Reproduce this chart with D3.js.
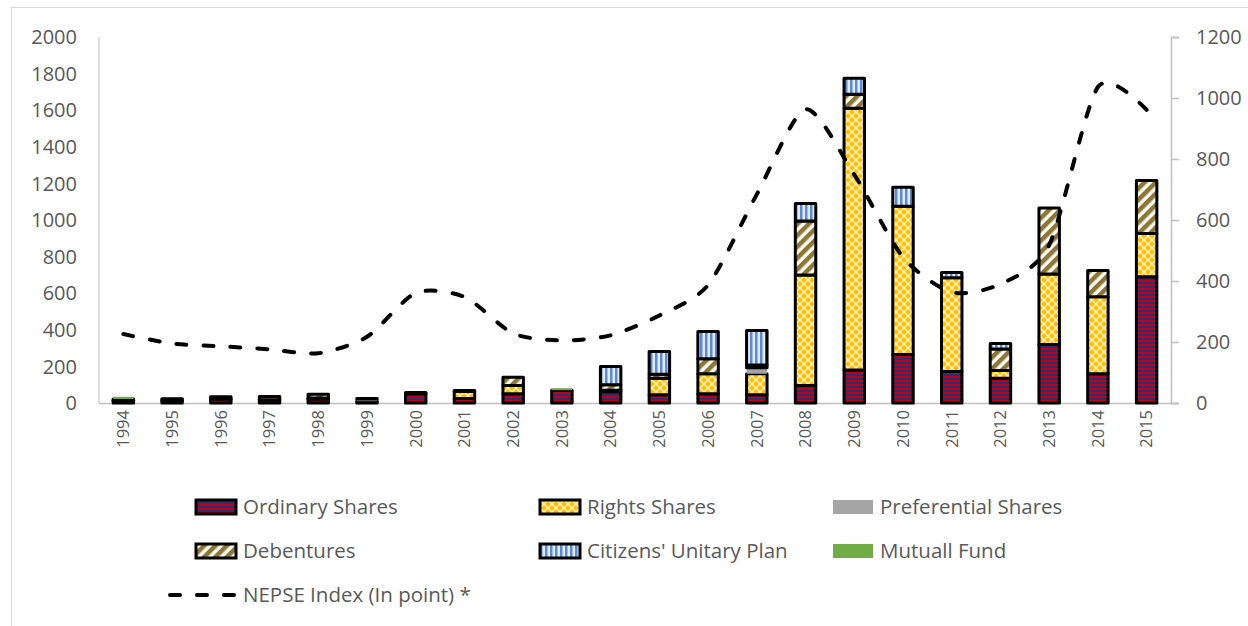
<!DOCTYPE html>
<html>
<head>
<meta charset="utf-8">
<script src="https://cdn.jsdelivr.net/npm/d3@7"></script>
<style>
  body { margin: 0; background: #fff; }
  svg text { font-family: "Open Sans", "Noto Sans", sans-serif; fill: #595959; }
</style>
</head>
<body>
<div id="chart"></div>
<script>
const years = ["1994","1995","1996","1997","1998","1999","2000","2001","2002","2003","2004",
  "2005","2006","2007","2008","2009","2010","2011","2012","2013","2014","2015"];

const ordinaryShares = [14, 15, 22, 18, 22, 10, 50, 25, 50, 70, 62, 45, 50, 45, 95, 180, 265, 172, 135, 320, 160, 690];
const rightsShares = [8, 8, 12, 17, 6, 0, 7, 38, 45, 0, 8, 90, 110, 115, 605, 1430, 810, 512, 42, 385, 420, 236];
const preferentialShares = [0, 0, 0, 0, 0, 12, 0, 0, 0, 0, 0, 0, 0, 33, 0, 0, 0, 0, 0, 0, 0, 0];
const debentures = [0, 0, 0, 0, 20, 3, 0, 5, 46, 0, 30, 22, 82, 15, 295, 77, 0, 0, 118, 360, 144, 290];
const citizensPlan = [0, 0, 0, 0, 0, 0, 0, 0, 0, 0, 99, 124, 149, 188, 95, 88, 104, 29, 30, 0, 0, 0];
const mutualFund = [12, 0, 0, 0, 0, 0, 0, 0, 0, 10, 0, 0, 0, 0, 0, 0, 0, 0, 0, 0, 0, 0];
const nepseIndex = [226, 195, 186, 176, 163, 217, 361, 348, 228, 205, 222, 287, 387, 684, 963, 749, 478, 363, 390, 518, 1036, 961];

const leftTicks = [0, 200, 400, 600, 800, 1000, 1200, 1400, 1600, 1800, 2000];
const rightTicks = [0, 200, 400, 600, 800, 1000, 1200];

const series = [
  { key: "ordinary", label: "Ordinary Shares", values: ordinaryShares, fill: "url(#pat-ordinary)", stroked: true },
  { key: "rights", label: "Rights Shares", values: rightsShares, fill: "url(#pat-rights)", stroked: true },
  { key: "preferential", label: "Preferential Shares", values: preferentialShares, fill: "#a5a5a5", stroked: false },
  { key: "debentures", label: "Debentures", values: debentures, fill: "url(#pat-deb)", stroked: true },
  { key: "citizens", label: "Citizens' Unitary Plan", values: citizensPlan, fill: "url(#pat-cit)", stroked: true },
  { key: "mutual", label: "Mutuall Fund", values: mutualFund, fill: "#70ad47", stroked: false }
];

const WIDTH = 1248;
const HEIGHT = 626;
const plot = { left: 99, right: 1171, top: 37, bottom: 403 };
const LABEL_SIZE = 20;
const LEGEND_SIZE = 20.5;

const svg = d3.select("#chart").append("svg")
  .attr("width", WIDTH)
  .attr("height", HEIGHT);

svg.append("rect").attr("width", WIDTH).attr("height", HEIGHT).attr("fill", "#fff");
svg.append("rect")
  .attr("x", 11.5).attr("y", 7.5)
  .attr("width", WIDTH).attr("height", HEIGHT)
  .attr("fill", "none").attr("stroke", "#d9d9d9");

// patterns that imitate the Excel fills
const defs = svg.append("defs");

const pOrd = defs.append("pattern").attr("id", "pat-ordinary")
  .attr("patternUnits", "userSpaceOnUse").attr("width", 4).attr("height", 4);
pOrd.append("rect").attr("width", 4).attr("height", 4).attr("fill", "#2b2f6b");
pOrd.append("rect").attr("width", 4).attr("height", 2).attr("fill", "#c00018");

const pRights = defs.append("pattern").attr("id", "pat-rights")
  .attr("patternUnits", "userSpaceOnUse").attr("width", 8).attr("height", 8);
pRights.append("rect").attr("width", 8).attr("height", 8).attr("fill", "#ffc000");
pRights.append("path").attr("d", "M0,0L8,8M8,0L0,8")
  .attr("stroke", "#fff2cc").attr("stroke-width", 1.4).attr("fill", "none");

const pDeb = defs.append("pattern").attr("id", "pat-deb")
  .attr("patternUnits", "userSpaceOnUse").attr("width", 8).attr("height", 8)
  .attr("patternTransform", "rotate(45)");
pDeb.append("rect").attr("width", 8).attr("height", 8).attr("fill", "#fdfbf4");
pDeb.append("rect").attr("width", 4.5).attr("height", 8).attr("fill", "#8c7535");

const pCit = defs.append("pattern").attr("id", "pat-cit")
  .attr("patternUnits", "userSpaceOnUse").attr("width", 5).attr("height", 5);
pCit.append("rect").attr("width", 5).attr("height", 5).attr("fill", "#e3ebf8");
pCit.append("rect").attr("width", 2.5).attr("height", 5).attr("fill", "#5b8bd6");

// scales
const x = d3.scaleBand().domain(years).range([plot.left, plot.right])
  .paddingInner(0.58).paddingOuter(0.29);
const yLeft = d3.scaleLinear().domain([0, 2000]).range([plot.bottom, plot.top]);
const yRight = d3.scaleLinear().domain([0, 1200]).range([plot.bottom, plot.top]);

// axes
const axisColor = "#bfbfbf";
svg.append("line")
  .attr("x1", plot.left).attr("x2", plot.left)
  .attr("y1", plot.top).attr("y2", plot.bottom)
  .attr("stroke", axisColor);
svg.append("line")
  .attr("x1", plot.left).attr("x2", plot.right + 8)
  .attr("y1", plot.bottom + 0.5).attr("y2", plot.bottom + 0.5)
  .attr("stroke", axisColor).attr("stroke-width", 1.5);

svg.append("g").selectAll("text").data(leftTicks).join("text")
  .attr("x", 77).attr("y", (d) => yLeft(d))
  .attr("dy", "0.36em").attr("text-anchor", "end")
  .attr("font-size", LABEL_SIZE)
  .text((d) => d);

const rightAxis = svg.append("g")
  .attr("transform", `translate(${plot.right},0)`)
  .call(d3.axisRight(yRight).tickValues(rightTicks).tickFormat(d3.format("d"))
    .tickSize(8).tickPadding(17));
rightAxis.select(".domain").attr("stroke", axisColor).attr("stroke-width", 1.5);
rightAxis.selectAll(".tick line").attr("stroke", axisColor).attr("stroke-width", 1.5);
rightAxis.selectAll(".tick text")
  .attr("font-family", "\"Open Sans\", sans-serif")
  .attr("font-size", LABEL_SIZE).attr("fill", "#595959");

svg.append("g").selectAll("text").data(years).join("text")
  .attr("transform", (d) => `translate(${x(d) + x.bandwidth() / 2},410) rotate(-90)`)
  .attr("dy", "0.35em").attr("text-anchor", "end")
  .attr("font-size", 16.5)
  .text((d) => d);

// stacked bars
const rows = years.map((year, i) => {
  const row = { year };
  series.forEach((s) => { row[s.key] = s.values[i]; });
  return row;
});
const stacked = d3.stack().keys(series.map((s) => s.key))(rows);

const barGroup = svg.append("g");
stacked.forEach((layer, li) => {
  const s = series[li];
  barGroup.append("g").selectAll("rect")
    .data(layer.filter((d) => d[1] - d[0] > 0))
    .join("rect")
    .attr("x", (d) => x(d.data.year))
    .attr("width", x.bandwidth())
    .attr("y", (d) => yLeft(d[1]))
    .attr("height", (d) => yLeft(d[0]) - yLeft(d[1]))
    .attr("fill", s.fill)
    .attr("stroke", s.stroked ? "#000" : "none")
    .attr("stroke-width", 3)
    .attr("stroke-linejoin", "round");
});

// NEPSE line on the right axis
const line = d3.line()
  .x((d, i) => x(years[i]) + x.bandwidth() / 2)
  .y((d) => yRight(d))
  .curve(d3.curveCardinal.tension(0.25));

svg.append("path")
  .datum(nepseIndex)
  .attr("d", line)
  .attr("fill", "none")
  .attr("stroke", "#000")
  .attr("stroke-width", 4)
  .attr("stroke-dasharray", "10,17")
  .attr("stroke-linecap", "round");

// legend
const legendItems = [
  { s: series[0], col: 0, row: 0 },
  { s: series[1], col: 1, row: 0 },
  { s: series[2], col: 2, row: 0 },
  { s: series[3], col: 0, row: 1 },
  { s: series[4], col: 1, row: 1 },
  { s: series[5], col: 2, row: 1 }
];
const colText = [243, 587, 880];
const rowY = [507, 551, 595];

const legend = svg.append("g");
legendItems.forEach(({ s, col, row }) => {
  const tx = colText[col];
  const cy = rowY[row];
  legend.append("rect")
    .attr("x", tx - 47).attr("y", cy - 7)
    .attr("width", 40).attr("height", 14)
    .attr("fill", s.fill)
    .attr("stroke", s.stroked ? "#000" : "none")
    .attr("stroke-width", 3);
  legend.append("text")
    .attr("x", tx).attr("y", cy).attr("dy", "0.35em")
    .attr("font-size", LEGEND_SIZE)
    .text(s.label);
});

legend.append("line")
  .attr("x1", 170).attr("x2", 236)
  .attr("y1", rowY[2]).attr("y2", rowY[2])
  .attr("stroke", "#000").attr("stroke-width", 4)
  .attr("stroke-dasharray", "10,17").attr("stroke-linecap", "round");
legend.append("text")
  .attr("x", colText[0]).attr("y", rowY[2]).attr("dy", "0.35em")
  .attr("font-size", LEGEND_SIZE)
  .text("NEPSE Index (In point) *");
</script>
</body>
</html>
